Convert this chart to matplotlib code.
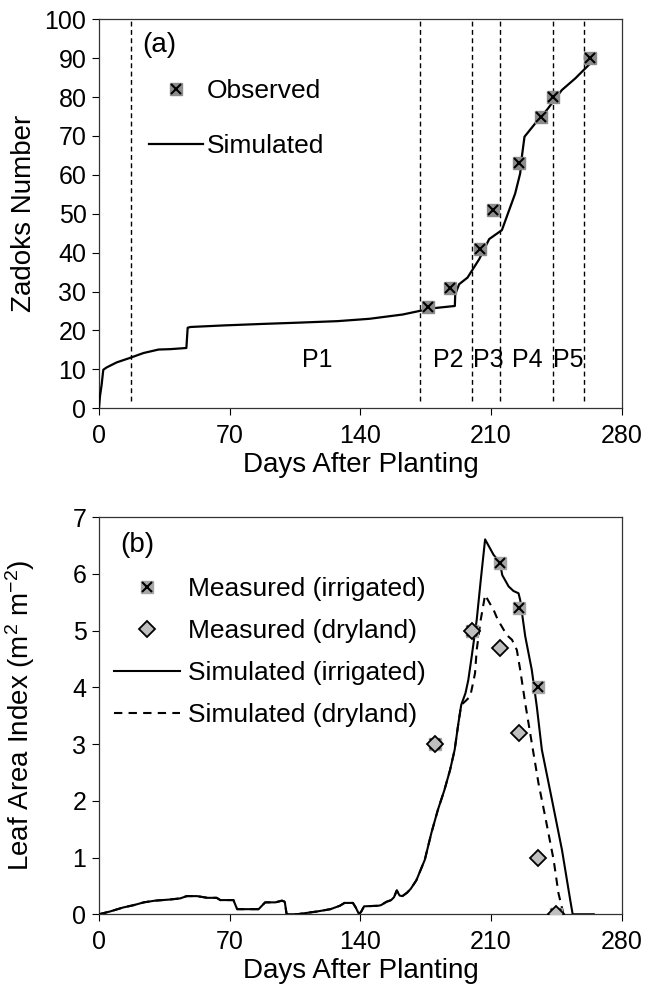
import matplotlib
matplotlib.use("Agg")
import matplotlib.pyplot as plt
import numpy as np

plt.rcParams['font.family'] = ['Liberation Sans', 'DejaVu Sans']
plt.rcParams['mathtext.fontset'] = 'custom'
plt.rcParams['mathtext.rm'] = 'Liberation Sans'
plt.rcParams['mathtext.it'] = 'Liberation Sans:italic'

# ---- (a) Zadoks growth stage ----
obs_days = [176, 188, 204, 211, 225, 237, 243, 263]
obs_zadoks = [26, 31, 41, 51, 63, 75, 80, 90]

sim_days = [0, 0.5, 1.4, 2.3, 4.1, 9.5, 16.3, 23.8, 31.9, 38.2, 46.8, 47.5, 49,
            66.9, 88.4, 106.3, 127.8, 144.8, 162.6, 171.5, 178.6, 190.6, 190.8,
            192.9, 197.4, 203.6, 209, 215.8, 222.9, 225.6, 226.5, 227.9, 233.6,
            239.9, 247.9, 255.1, 262.2, 264]
sim_zadoks = [0, 3, 6, 9.9, 10.5, 11.8, 12.9, 14.2, 15.1, 15.2, 15.5, 20.7, 20.9,
              21.3, 21.7, 22.0, 22.4, 23.0, 24.1, 25.0, 25.7, 26.3, 29.3,
              31.9, 33.6, 38.3, 43.5, 45.8, 55.2, 60.4, 64.7, 69.8, 73.2,
              76.7, 81.8, 84.8, 88.2, 89.1]

phase_bounds = [17, 172, 200, 215, 243, 260]
phase_names = ["P1", "P2", "P3", "P4", "P5"]
phase_label_days = [117, 187, 208.6, 229.6, 251.3]

# ---- (b) Leaf area index ----
early_days = [0, 6, 13, 18.5, 24, 30, 38, 43.5, 47, 52.5, 58, 63, 65, 72, 74,
              85.5, 89, 94.5, 98, 99.5, 100.5, 106, 117, 124, 129, 131.5, 136,
              137.5, 139.3, 140.5, 142, 149.5, 151, 154, 156.5, 158, 159.5, 161,
              162.5, 165, 167, 170, 174.5, 178, 181.5, 185, 188, 190.5, 192.5, 194]
early_lai = [0, 0.05, 0.12, 0.16, 0.21, 0.24, 0.26, 0.28, 0.32, 0.32, 0.29, 0.29,
             0.25, 0.25, 0.09, 0.09, 0.21, 0.21, 0.24, 0.22, 0.0, 0.0, 0.05, 0.09,
             0.15, 0.2, 0.2, 0.12, 0.0, 0.05, 0.14, 0.15, 0.16, 0.22, 0.25, 0.30,
             0.42, 0.33, 0.32, 0.38, 0.45, 0.60, 0.96, 1.43, 1.84, 2.19, 2.54,
             2.90, 3.37, 3.69]

irr_days = [196.3, 197.8, 199.6, 202.3, 204.5, 206.8, 211.3, 213.5, 215, 216,
            219.4, 222, 224.7, 225.6, 228.3, 231.8, 234.5, 237.2, 242.6, 248,
            252.4, 253.7, 265]
irr_lai = [3.90, 4.13, 4.54, 5.19, 5.9, 6.61, 6.34, 6.25, 6.15, 5.98,
           5.78, 5.7, 5.66, 5.54, 4.90, 4.31, 3.66, 2.9, 2.02, 1.13,
           0.25, 0.0, 0.0]

dry_days = [196, 198.8, 200.5, 201.4, 202.3, 204.5, 206.8, 209, 211.3, 213.5,
            215.8, 218.5, 221.2, 223.8, 225.6, 228.3, 231.8, 235.4, 239, 243.5,
            246.1, 248.8]
dry_lai = [3.75, 3.84, 4.1, 4.25, 4.66, 5.2, 5.63, 5.5, 5.37, 5.2,
           5.07, 4.92, 4.84, 4.66, 4.31, 3.72, 3.02, 2.31, 1.72, 0.96,
           0.37, 0.0]

meas_days = [180, 200, 215, 225, 235, 245]
meas_irr = [3.0, 5.0, 6.2, 5.4, 4.0, 0.0]
meas_dry = [3.0, 5.0, 4.7, 3.2, 1.0, 0.0]

x_ticks = [0, 70, 140, 210, 280]

fig = plt.figure(figsize=(6.47, 9.98), dpi=100)
ax1 = fig.add_axes([0.153, 0.5909, 0.808, 0.3898])
ax2 = fig.add_axes([0.153, 0.0839, 0.808, 0.3978])

FS_TICK = 18
FS_LAB = 20
FS_LEG = 19

for ax in (ax1, ax2):
    ax.set_xlim(0, 280)
    ax.set_xticks(x_ticks)
    ax.tick_params(direction='out', length=5, width=0.8, labelsize=FS_TICK, pad=4)
    ax.tick_params(axis='x', pad=6)
    for s in ax.spines.values():
        s.set_linewidth(0.9)
        s.set_color('#333333')
    ax.set_xlabel("Days After Planting", fontsize=FS_LAB, labelpad=3)
    ax.yaxis.set_label_coords(-0.118, 0.5)

# panel (a)
ax1.set_ylim(0, 100)
ax1.set_yticks(np.arange(0, 101, 10))
for d in phase_bounds:
    ax1.plot([d, d], [2, 100], color='black', lw=1.0, ls=(0, (3.5, 2.5)), zorder=1)
for name, d in zip(phase_names, phase_label_days):
    ax1.text(d, 12.5, name, ha='center', va='center', fontsize=FS_TICK)
sim_line, = ax1.plot(sim_days, sim_zadoks, color='black', lw=1.6, zorder=3)
sq_a, = ax1.plot(obs_days, obs_zadoks, ls='none', marker='s', ms=9,
                 mfc='#8c8c8c', mec='#8c8c8c', zorder=4)
x_a, = ax1.plot(obs_days, obs_zadoks, ls='none', marker='x', ms=7, mew=1.5,
                color='black', zorder=5)
ax1.set_ylabel("Zadoks Number", fontsize=FS_LAB)
ax1.text(0.082, 0.934, "(a)", transform=ax1.transAxes, fontsize=FS_LAB, ha='left', va='center')
ax1.legend([(sq_a, x_a), sim_line], ["Observed", "Simulated"], loc='upper left',
           bbox_to_anchor=(0.0956, 0.846), frameon=False, fontsize=FS_LEG,
           handlelength=2.05, handletextpad=0.15, labelspacing=1.18, borderpad=0,
           borderaxespad=0)

# panel (b)
ax2.set_ylim(0, 7)
ax2.set_yticks(np.arange(0, 8, 1))
irr_line, = ax2.plot(early_days + irr_days, early_lai + irr_lai, color='black', lw=1.5, zorder=3)
dry_line, = ax2.plot(early_days + dry_days, early_lai + dry_lai, color='black', lw=1.5,
                     ls=(0, (4, 3)), zorder=3)
sq_b, = ax2.plot(meas_days, meas_irr, ls='none', marker='s', ms=9,
                 mfc='#a6a6a6', mec='#a6a6a6', zorder=4)
x_b, = ax2.plot(meas_days, meas_irr, ls='none', marker='x', ms=7, mew=1.5,
                color='black', zorder=5)
dia_b, = ax2.plot(meas_days, meas_dry, ls='none', marker='D', ms=8.5,
                  mfc='#bfbfbf', mec='black', mew=1.3, zorder=6)
ax2.set_ylabel("Leaf Area Index (m$^{2}$ m$^{-2}$)", fontsize=FS_LAB)
ax2.text(0.04, 0.93, "(b)", transform=ax2.transAxes, fontsize=FS_LAB, ha='left', va='center')
ax2.legend([(sq_b, x_b), dia_b, irr_line, dry_line],
           ["Measured (irrigated)", "Measured (dryland)", "Simulated (irrigated)",
            "Simulated (dryland)"], loc='upper left',
           bbox_to_anchor=(0.029, 0.85), frameon=False, fontsize=FS_LEG,
           handlelength=2.5, handletextpad=0.3, labelspacing=0.69, borderpad=0,
           borderaxespad=0)

fig.savefig("out.png", dpi=100)
